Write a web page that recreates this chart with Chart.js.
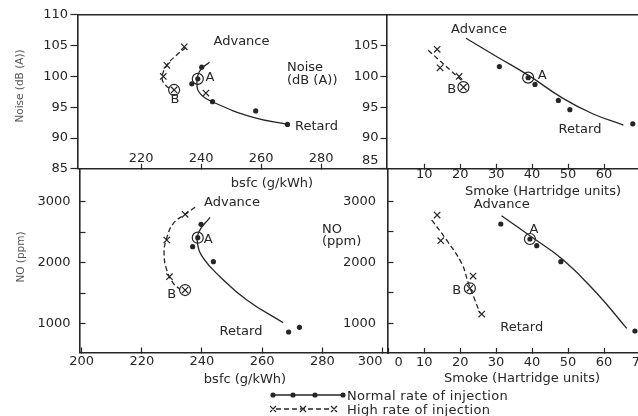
<!DOCTYPE html>
<html>
<head>
<meta charset="utf-8">
<title>Injection timing: noise, NO, bsfc and smoke</title>
<script src="https://cdn.jsdelivr.net/npm/chart.js@4.4.1/dist/chart.umd.min.js"></script>
<style>
  html, body { margin: 0; padding: 0; background: #fff; }
  #figure { position: relative; width: 638px; height: 416px; overflow: hidden; }
  #figure canvas { position: absolute; left: 0; top: 0; }
  #legend { position: absolute; left: 270px; top: 388px; font: 13px 'DejaVu Sans', sans-serif; color: #262626; letter-spacing: 0.3px; }
  #legend .row { display: flex; align-items: center; height: 14px; white-space: nowrap; }
  #legend svg { display: block; margin-right: 1px; }
</style>
</head>
<body>
<div id="figure">
  <canvas id="noiseBsfc" width="638" height="416"></canvas>
  <canvas id="noiseSmoke" width="638" height="416"></canvas>
  <canvas id="noBsfc" width="638" height="416"></canvas>
  <canvas id="noSmoke" width="638" height="416"></canvas>
  <div id="legend">
    <div class="row">
      <svg width="76" height="14">
        <line x1="3" y1="7" x2="73" y2="7" stroke="#262626" stroke-width="1.3"/>
        <circle cx="3" cy="7" r="2.6" fill="#262626"/>
        <circle cx="23" cy="7" r="2.6" fill="#262626"/>
        <circle cx="45" cy="7" r="2.6" fill="#262626"/>
        <circle cx="73" cy="7" r="2.6" fill="#262626"/>
      </svg>Normal rate of injection
    </div>
    <div class="row">
      <svg width="76" height="14">
        <line x1="6" y1="7" x2="62" y2="7" stroke="#262626" stroke-width="1.3" stroke-dasharray="5 3"/>
        <path d="M0 4l6 6M6 4l-6 6M30 4l6 6M36 4l-6 6M61 4l6 6M67 4l-6 6" stroke="#262626" stroke-width="1.2" fill="none"/>
      </svg>High rate of injection
    </div>
  </div>
</div>
<script>
const INK = '#262626';
const FONT = "'DejaVu Sans', 'Liberation Sans', sans-serif";
const W = 638, H = 416;

// Noise (dB(A)) against bsfc (g/kWh)
const noiseBsfcNormalX = [240.2, 238.9, 236.9, 243.8, 258.2, 268.8];
const noiseBsfcNormalY = [101.5, 99.6, 98.8, 95.9, 94.4, 92.2];
const noiseBsfcNormalFitX = [242.8, 239.7, 238.6, 239.7, 244.1, 257.4, 269.4];
const noiseBsfcNormalFitY = [102.3, 101.0, 99.1, 97.2, 95.8, 93.35, 92.15];
const noiseBsfcHighX = [234.4, 228.6, 227.4, 241.6, 231.0];
const noiseBsfcHighY = [104.8, 101.8, 100.0, 97.3, 97.8];
const noiseBsfcHighFitX = [235.0, 231.7, 228.6, 227.0, 228.3, 229.7];
const noiseBsfcHighFitY = [104.7, 103.4, 101.8, 99.7, 98.5, 98.0];

// Noise (dB(A)) against smoke (Hartridge units)
const noiseSmokeNormalX = [30.9, 38.9, 40.8, 47.3, 50.5, 68.0];
const noiseSmokeNormalY = [101.6, 99.8, 98.7, 96.1, 94.6, 92.3];
const noiseSmokeNormalFitX = [21.6, 30.2, 38.9, 48.7, 57.0, 65.4];
const noiseSmokeNormalFitY = [106.2, 103.2, 100.2, 96.4, 93.9, 92.1];
const noiseSmokeHighX = [13.6, 14.4, 19.7, 20.9];
const noiseSmokeHighY = [104.4, 101.4, 100.0, 98.25];
const noiseSmokeHighFitX = [11.1, 20.4];
const noiseSmokeHighFitY = [104.25, 99.35];

// NO (ppm) against bsfc (g/kWh)
const noBsfcNormalX = [239.7, 238.6, 236.9, 243.8, 268.8, 272.4];
const noBsfcNormalY = [2626, 2407, 2259, 2013, 861, 938];
const noBsfcNormalFitX = [242.7, 239.0, 238.5, 240.5, 246.0, 254.9, 267.0];
const noBsfcNormalFitY = [2741, 2505, 2315, 2069, 1768, 1385, 1013];
const noBsfcHighX = [234.4, 228.3, 229.2, 234.4];
const noBsfcHighY = [2790, 2369, 1767, 1549];
const noBsfcHighFitX = [237.7, 234.4, 230.5, 228.1, 227.4, 228.3, 230.5, 232.7];
const noBsfcHighFitY = [2905, 2790, 2643, 2369, 2151, 1877, 1659, 1561];

// NO (ppm) against smoke (Hartridge units)
const noSmokeNormalX = [31.3, 39.4, 41.3, 48.0, 68.6];
const noSmokeNormalY = [2628, 2382, 2272, 2010, 874];
const noSmokeNormalFitX = [31.5, 39.4, 48.7, 58.0, 66.3];
const noSmokeNormalFitY = [2764, 2436, 2038, 1492, 918];
const noSmokeHighX = [13.6, 14.6, 23.6, 22.7, 26.0];
const noSmokeHighY = [2775, 2354, 1775, 1574, 1152];
const noSmokeHighFitX = [12.1, 16.2, 20.4, 22.3, 24.1, 25.5];
const noSmokeHighFitY = [2693, 2366, 1984, 1656, 1382, 1164];

// tick values
const noiseTicks = [85, 90, 95, 100, 105, 110];
const noiseTicksRight = [85, 90, 95, 100, 105];
const noTicks = [1000, 1500, 2000, 2500, 3000];
const bsfcTicksTop = [220, 240, 260, 280];
const bsfcTicksBottom = [200, 220, 240, 260, 280, 300];
const smokeTicksTop = [10, 20, 30, 40, 50, 60];
const smokeTicksBottom = [0, 10, 20, 30, 40, 50, 60, 70];

const pts = (xs, ys) => xs.map((x, i) => ({ x, y: ys[i] }));

// free text (titles, Advance / Retard, A / B) in page pixels
function notes(items) {
  return {
    id: 'notes',
    afterDraw(chart) {
      const ctx = chart.ctx;
      items.forEach(it => {
        ctx.save();
        ctx.font = `${it.size || 13}px ${FONT}`;
        ctx.fillStyle = it.color || INK;
        ctx.textAlign = it.align || 'center';
        ctx.textBaseline = 'middle';
        ctx.translate(it.x, it.y);
        if (it.rotate) ctx.rotate(it.rotate);
        ctx.fillText(it.text, 0, 0);
        ctx.restore();
      });
    }
  };
}

function panel(id, p) {
  const xh = 40;
  const tickFont = { family: FONT, size: 13 };
  const normal = pts(p.normalX, p.normalY);
  const high = pts(p.highX, p.highY);

  const scales = {
    x: {
      type: 'linear', position: 'bottom', min: p.xMin, max: p.xMax,
      afterBuildTicks: s => { s.ticks = p.xTicks.map(v => ({ value: v })); },
      afterFit: s => { s.height = xh; s.paddingLeft = 0; s.paddingRight = 0; },
      ticks: { font: tickFont, color: INK, padding: p.xPad, mirror: !!p.xInside, maxRotation: 0, autoSkip: false,
               callback: p.xLabel || (v => String(v)) },
      grid: { drawOnChartArea: false, tickLength: -5, tickColor: INK, tickWidth: 1.2 },
      border: { color: INK, width: 1.6 }
    },
    y: {
      type: 'linear', position: 'left', min: p.yMin, max: p.yMax,
      afterBuildTicks: s => { s.ticks = p.yTicks.map(v => ({ value: v })); },
      afterFit: s => { s.width = p.yw; s.paddingTop = 0; s.paddingBottom = 0; },
      ticks: { font: tickFont, color: INK, padding: p.yPad, autoSkip: false,
               callback: p.yLabel || (v => String(v)) },
      grid: { drawOnChartArea: false, tickLength: p.yTick, tickColor: INK, tickWidth: 1.2 },
      border: { color: INK, width: 1.6 }
    }
  };
  if (p.topBorder) {
    scales.xTop = {
      type: 'linear', position: 'top', min: 0, max: 1,
      ticks: { display: false },
      grid: { drawOnChartArea: false, drawTicks: false },
      border: { color: INK, width: 1.6 },
      afterFit: s => { s.height = 0; }
    };
  }

  new Chart(document.getElementById(id), {
    type: 'scatter',
    data: {
      datasets: [
        { type: 'line', data: pts(p.fitX, p.fitY), borderColor: INK, borderWidth: 1.3,
          tension: 0.45, pointRadius: 0, fill: false },
        { type: 'line', data: pts(p.highFitX, p.highFitY), borderColor: INK, borderWidth: 1.3,
          borderDash: [5, 3], tension: 0.45, pointRadius: 0, fill: false },
        { data: normal, pointStyle: 'circle', pointRadius: 2.6,
          pointBackgroundColor: INK, pointBorderWidth: 0 },
        { data: high, pointStyle: 'crossRot', pointRadius: 4.5,
          pointBorderColor: INK, pointBorderWidth: 1.2 },
        // rings round the reference points A and B
        { data: [normal[p.a], high[p.b]], pointStyle: 'circle', pointRadius: 5.5,
          pointBackgroundColor: 'rgba(0,0,0,0)', pointBorderColor: INK, pointBorderWidth: 1.2 }
      ]
    },
    options: {
      responsive: false,
      animation: false,
      devicePixelRatio: 1,
      events: [],
      layout: {
        autoPadding: false,
        padding: { left: p.area.left - p.yw, top: p.area.top, right: W - p.area.right, bottom: H - p.area.bottom - xh }
      },
      plugins: { legend: { display: false }, tooltip: { enabled: false } },
      scales
    },
    plugins: [notes(p.notes)]
  });
}

const up = -Math.PI / 2;

panel('noiseBsfc', {
  area: { left: 77.5, top: 14.8, right: 386.5, bottom: 168.8 }, yw: 77.5,
  xMin: 198.8, xMax: 301.8, yMin: 85, yMax: 110,
  xTicks: bsfcTicksTop, yTicks: noiseTicks, xPad: 2, xInside: true, yPad: 2.5, yTick: 7, topBorder: true,
  normalX: noiseBsfcNormalX, normalY: noiseBsfcNormalY, fitX: noiseBsfcNormalFitX, fitY: noiseBsfcNormalFitY,
  highX: noiseBsfcHighX, highY: noiseBsfcHighY, highFitX: noiseBsfcHighFitX, highFitY: noiseBsfcHighFitY,
  a: 1, b: 4,
  notes: [
    { text: 'Noise (dB (A))', x: 20, y: 86, rotate: up, size: 10.5, color: '#555' },
    { text: 'bsfc (g/kWh)', x: 272, y: 183.5 },
    { text: 'Advance', x: 241.5, y: 41.7 },
    { text: 'A', x: 210, y: 77.3 },
    { text: 'B', x: 175, y: 100 },
    { text: 'Retard', x: 295, y: 126.5, align: 'left' },
    { text: 'Noise', x: 287, y: 68, align: 'left' },
    { text: '(dB (A))', x: 287, y: 81, align: 'left' }
  ]
});

panel('noiseSmoke', {
  area: { left: 386.5, top: 14.8, right: 638, bottom: 168.8 }, yw: 70,
  xMin: -0.5, xMax: 69.45, yMin: 85, yMax: 110,
  xTicks: smokeTicksTop, yTicks: noiseTicksRight, xPad: 3.4, yPad: 2, yTick: 6, topBorder: true,
  yLabel: v => (v === 85 ? ['85', ''] : String(v)),
  normalX: noiseSmokeNormalX, normalY: noiseSmokeNormalY, fitX: noiseSmokeNormalFitX, fitY: noiseSmokeNormalFitY,
  highX: noiseSmokeHighX, highY: noiseSmokeHighY, highFitX: noiseSmokeHighFitX, highFitY: noiseSmokeHighFitY,
  a: 1, b: 3,
  notes: [
    { text: 'Smoke (Hartridge units)', x: 543, y: 191.5 },
    { text: 'Advance', x: 479, y: 29.3 },
    { text: 'A', x: 542.3, y: 76 },
    { text: 'B', x: 451.7, y: 89.3 },
    { text: 'Retard', x: 580, y: 129.3 }
  ]
});

panel('noBsfc', {
  area: { left: 79.5, top: 168.8, right: 387, bottom: 352.5 }, yw: 79.5,
  xMin: 199.3, xMax: 301.5, yMin: 525, yMax: 3536,
  xTicks: bsfcTicksBottom, yTicks: noTicks, xPad: 6.7, yPad: 15, yTick: -6,
  xLabel: v => (v === 300 ? '300      ' : String(v)),
  yLabel: v => (v % 1000 === 0 ? String(v) : ''),
  normalX: noBsfcNormalX, normalY: noBsfcNormalY, fitX: noBsfcNormalFitX, fitY: noBsfcNormalFitY,
  highX: noBsfcHighX, highY: noBsfcHighY, highFitX: noBsfcHighFitX, highFitY: noBsfcHighFitY,
  a: 1, b: 3,
  notes: [
    { text: 'NO (ppm)', x: 21, y: 257, rotate: up, size: 10.5, color: '#555' },
    { text: 'bsfc (g/kWh)', x: 245, y: 380 },
    { text: 'Advance', x: 232, y: 203 },
    { text: 'A', x: 208.3, y: 240 },
    { text: 'B', x: 171.7, y: 295 },
    { text: 'Retard', x: 241, y: 332 }
  ]
});

panel('noSmoke', {
  area: { left: 387.5, top: 168.8, right: 638, bottom: 353 }, yw: 70,
  xMin: -0.2, xMax: 69.45, yMin: 513, yMax: 3533,
  xTicks: smokeTicksBottom, yTicks: noTicks, xPad: 6.5, yPad: 17.5, yTick: -6,
  xLabel: v => (v === 0 ? '     0' : String(v)),
  yLabel: v => (v % 1000 === 0 ? String(v) : ''),
  normalX: noSmokeNormalX, normalY: noSmokeNormalY, fitX: noSmokeNormalFitX, fitY: noSmokeNormalFitY,
  highX: noSmokeHighX, highY: noSmokeHighY, highFitX: noSmokeHighFitX, highFitY: noSmokeHighFitY,
  a: 1, b: 3,
  notes: [
    { text: 'Smoke (Hartridge units)', x: 522, y: 379 },
    { text: 'Advance', x: 501.7, y: 205 },
    { text: 'A', x: 534, y: 229.3 },
    { text: 'B', x: 456.7, y: 290.7 },
    { text: 'Retard', x: 521.7, y: 327.7 },
    { text: 'NO', x: 322, y: 230, align: 'left' },
    { text: '(ppm)', x: 322, y: 242, align: 'left' }
  ]
});
</script>
</body>
</html>
